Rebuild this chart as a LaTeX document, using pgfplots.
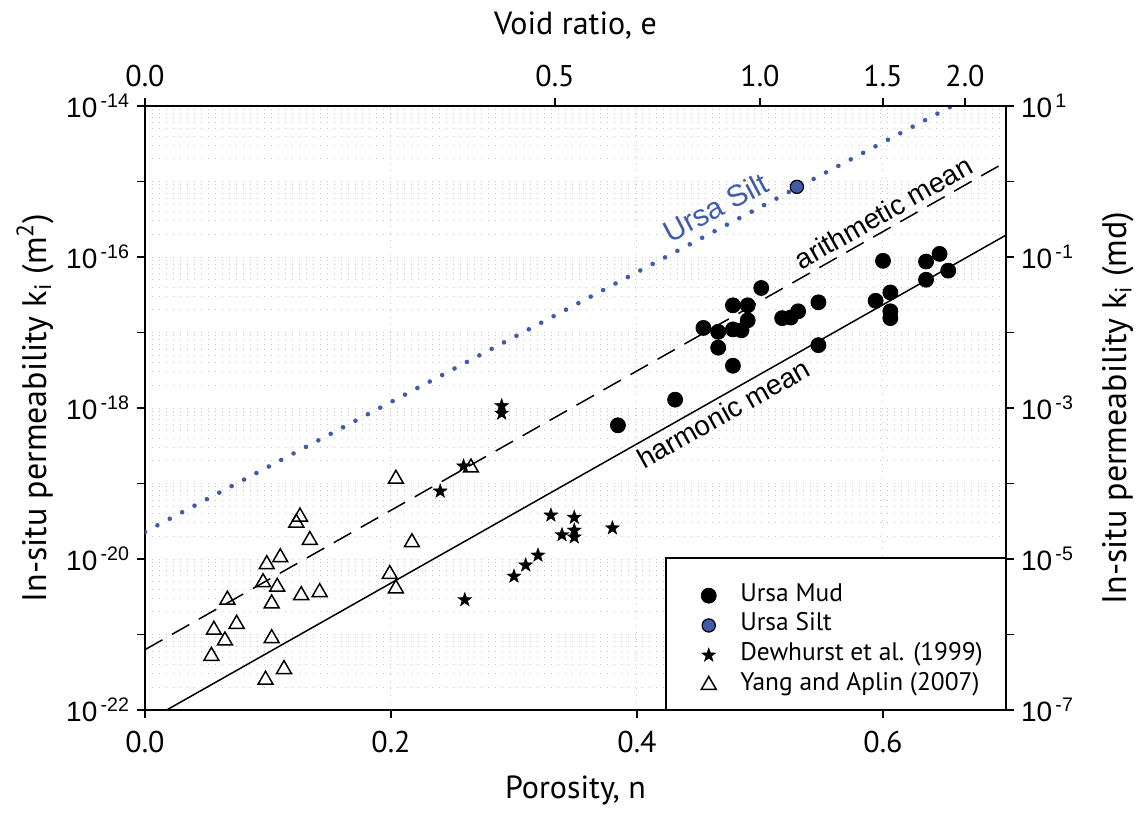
\documentclass[border=0pt]{standalone}
\usepackage{fontspec}
\setmainfont{PT Sans}
\newfontfamily\arialf{Liberation Sans}
\usepackage{pgfplots}
\pgfplotsset{compat=1.18}
\definecolor{silt}{RGB}{63,91,169}
\newcommand{\tp}[1]{{\arialf 10\textsuperscript{\,#1}}}
\pgfdeclareplotmark{fstar}{%
  \pgfpathmoveto{\pgfpointpolar{90}{\pgfplotmarksize}}%
  \pgfpathlineto{\pgfpointpolar{126}{0.40\pgfplotmarksize}}%
  \pgfpathlineto{\pgfpointpolar{162}{\pgfplotmarksize}}%
  \pgfpathlineto{\pgfpointpolar{198}{0.40\pgfplotmarksize}}%
  \pgfpathlineto{\pgfpointpolar{234}{\pgfplotmarksize}}%
  \pgfpathlineto{\pgfpointpolar{270}{0.40\pgfplotmarksize}}%
  \pgfpathlineto{\pgfpointpolar{306}{\pgfplotmarksize}}%
  \pgfpathlineto{\pgfpointpolar{342}{0.40\pgfplotmarksize}}%
  \pgfpathlineto{\pgfpointpolar{18}{\pgfplotmarksize}}%
  \pgfpathlineto{\pgfpointpolar{54}{0.40\pgfplotmarksize}}%
  \pgfpathclose
  \pgfusepathqfillstroke}
\begin{document}
\begin{tikzpicture}
\begin{axis}[
  name=ax, at={(0,0)}, anchor=south west,
  scale only axis, width=430.5pt, height=302pt,
  xmin=0, xmax=0.7, ymode=log, ymin=1e-22, ymax=1e-14,
  xtick={0,0.2,0.4,0.6}, xticklabels={0.0,0.2,0.4,0.6},
  ytick={1e-22,1e-21,1e-20,1e-19,1e-18,1e-17,1e-16,1e-15,1e-14},
  yticklabels={\tp{-22},,\tp{-20},,\tp{-18},,\tp{-16},,\tp{-14}},
  minor ytick={2e-22,3e-22,4e-22,5e-22,6e-22,7e-22,8e-22,9e-22,
    2e-21,3e-21,4e-21,5e-21,6e-21,7e-21,8e-21,9e-21,
    2e-20,3e-20,4e-20,5e-20,6e-20,7e-20,8e-20,9e-20,
    2e-19,3e-19,4e-19,5e-19,6e-19,7e-19,8e-19,9e-19,
    2e-18,3e-18,4e-18,5e-18,6e-18,7e-18,8e-18,9e-18,
    2e-17,3e-17,4e-17,5e-17,6e-17,7e-17,8e-17,9e-17,
    2e-16,3e-16,4e-16,5e-16,6e-16,7e-16,8e-16,9e-16,
    2e-15,3e-15,4e-15,5e-15,6e-15,7e-15,8e-15,9e-15},
  xtick pos=bottom, ytick pos=left,
  tick align=outside, major tick length=4pt, minor tick length=0pt,
  xmajorgrids, ymajorgrids, yminorgrids,
  grid style={gray!45, line width=0.5pt, dash pattern=on 0.5pt off 3pt},
  minor grid style={gray!45, line width=0.5pt, dash pattern=on 0.5pt off 3pt},
  axis line style={line width=0.8pt},
  every tick/.style={black, line width=0.8pt},
  xticklabel style={font=\fontsize{15}{18}\selectfont, yshift=-3pt},
  yticklabel style={font=\fontsize{14}{17}\selectfont},
  xlabel={Porosity, n},
  ylabel={In-situ permeability k\textsubscript{i} (m\textsuperscript{2})},
  xlabel style={font=\fontsize{16}{19}\selectfont, at={(axis description cs:0.5,0)}, yshift=-40pt, anchor=center},
  ylabel style={font=\fontsize{17}{20}\selectfont, at={(axis description cs:0,0.5)}, yshift=55pt, anchor=center},
  legend style={at={(axis description cs:0.6456,0.209)}, anchor=north west,
    draw=none, fill=none, font=\fontsize{12.7}{15}\selectfont, row sep=3.4pt, column sep=11pt,
    inner sep=0pt, nodes={inner sep=1pt, text depth=0.2em, text height=0.75em},
    cells={anchor=west}},
]
% lines
\addplot[silt, line width=2.3pt, line cap=round, dash pattern=on 0pt off 7pt, forget plot]
  coordinates {(0,2.29e-20) (0.656,1e-14)};
\addplot[black, line width=0.75pt, dash pattern=on 10pt off 5.5pt, forget plot]
  coordinates {(0,6.3e-22) (0.7,1.82e-15)};
\addplot[black, line width=0.75pt, forget plot]
  coordinates {(0.0176,1e-22) (0.7,1.95e-16)};
% Ursa Mud
\addplot[only marks, mark=*, mark size=3.75pt, black] coordinates {
(0.3845,5.9e-19) (0.431,1.29e-18) (0.478,3.63e-18) (0.466,6.3e-18)
(0.454,1.15e-17) (0.466,1.02e-17) (0.478,1.10e-17) (0.485,1.07e-17)
(0.490,1.45e-17) (0.478,2.29e-17) (0.490,2.29e-17) (0.501,3.89e-17)
(0.518,1.55e-17) (0.525,1.58e-17) (0.531,1.91e-17) (0.5475,2.51e-17)
(0.5475,6.8e-18) (0.600,8.9e-17) (0.606,3.39e-17) (0.594,2.63e-17)
(0.606,1.91e-17) (0.606,1.55e-17) (0.635,8.7e-17) (0.646,1.10e-16)
(0.653,6.6e-17) (0.635,5.0e-17)};
\addlegendentry{Ursa Mud}
% Ursa Silt
\addplot[only marks, mark=*, mark size=3.3pt, draw=black, fill=silt, mark options={line width=0.6pt}] coordinates {(0.530,8.5e-16)};
\addlegendentry{Ursa Silt}
% Dewhurst
\addplot[only marks, mark=fstar, mark size=3.7pt, black, mark options={fill=black, line width=0.2pt}] coordinates {
(0.290,1.07e-18) (0.290,8.5e-19) (0.259,1.70e-19) (0.240,7.9e-20)
(0.330,3.8e-20) (0.349,3.55e-20) (0.339,2.09e-20) (0.349,2.4e-20)
(0.349,1.95e-20) (0.380,2.57e-20) (0.3195,1.12e-20) (0.3095,8.3e-21)
(0.300,5.9e-21) (0.260,2.88e-21)};
\addlegendentry{Dewhurst et al. (1999)}
% Yang and Aplin
\addplot[only marks, mark=triangle, mark size=4.3pt, black, mark options={fill=white, line width=0.75pt}] coordinates {
(0.204,1.15e-19) (0.126,3.63e-20) (0.123,3.02e-20) (0.134,1.78e-20)
(0.217,1.66e-20) (0.110,1.05e-20) (0.099,8.5e-21) (0.199,6.3e-21)
(0.096,4.9e-21) (0.1075,4.27e-21) (0.204,4.07e-21) (0.127,3.31e-21)
(0.142,3.63e-21) (0.067,2.88e-21) (0.103,2.57e-21) (0.0745,1.38e-21)
(0.056,1.15e-21) (0.065,8.3e-22) (0.103,8.9e-22) (0.054,5.2e-22)
(0.113,3.47e-22) (0.098,2.51e-22) (0.265,1.62e-19)};
\addlegendentry{Yang and Aplin (2007)}
% annotations
\node[silt, rotate=27.8, font=\arialf\fontsize{15}{18}\selectfont] at (axis cs:0.4638,4.57e-16) {Ursa Silt};
\node[black, rotate=29.5, font=\arialf\fontsize{14}{17}\selectfont] at (axis cs:0.6003,3.89e-16) {arithmetic mean};
\node[black, rotate=29.3, font=\arialf\fontsize{14}{17}\selectfont] at (axis cs:0.4704,8.5e-19) {harmonic mean};
% legend box
\filldraw[fill=white, draw=black, line width=0.8pt] (axis description cs:0.6051,0) rectangle (axis description cs:1,0.2517);
\end{axis}
\begin{axis}[
  at={(0,0)}, anchor=south west,
  scale only axis, width=430.5pt, height=302pt,
  xmin=0, xmax=0.7, ymode=log, ymin=1e-7, ymax=1e1,
  axis x line*=top, axis y line*=right,
  xtick={0,0.333333,0.5,0.6,0.666667}, xticklabels={0.0,0.5,1.0,1.5,2.0},
  ytick={1e-7,1e-6,1e-5,1e-4,1e-3,1e-2,1e-1,1e0,1e1},
  yticklabels={\tp{-7},,\tp{-5},,\tp{-3},,\tp{-1},,\tp{1}},
  minor tick length=0pt, tick align=outside, major tick length=4pt,
  axis line style={line width=0.8pt},
  every tick/.style={black, line width=0.8pt},
  xticklabel style={font=\fontsize{15}{18}\selectfont, yshift=2pt},
  yticklabel style={font=\fontsize{14}{17}\selectfont},
  xlabel={Void ratio, e},
  ylabel={In-situ permeability k\textsubscript{i} (md)},
  xlabel style={font=\fontsize{16}{19}\selectfont, at={(axis description cs:0.5,1)}, yshift=40pt, anchor=center},
  ylabel style={font=\fontsize{17}{20}\selectfont, at={(axis description cs:1,0.5)}, yshift=-56pt, anchor=center},
]
\addplot[draw=none, forget plot] coordinates {(0.1,1e-3)};
\end{axis}
\pgfresetboundingbox
\path[use as bounding box] (-72.5pt,-53.5pt) rectangle (500pt,355pt);
\end{tikzpicture}
\end{document}
